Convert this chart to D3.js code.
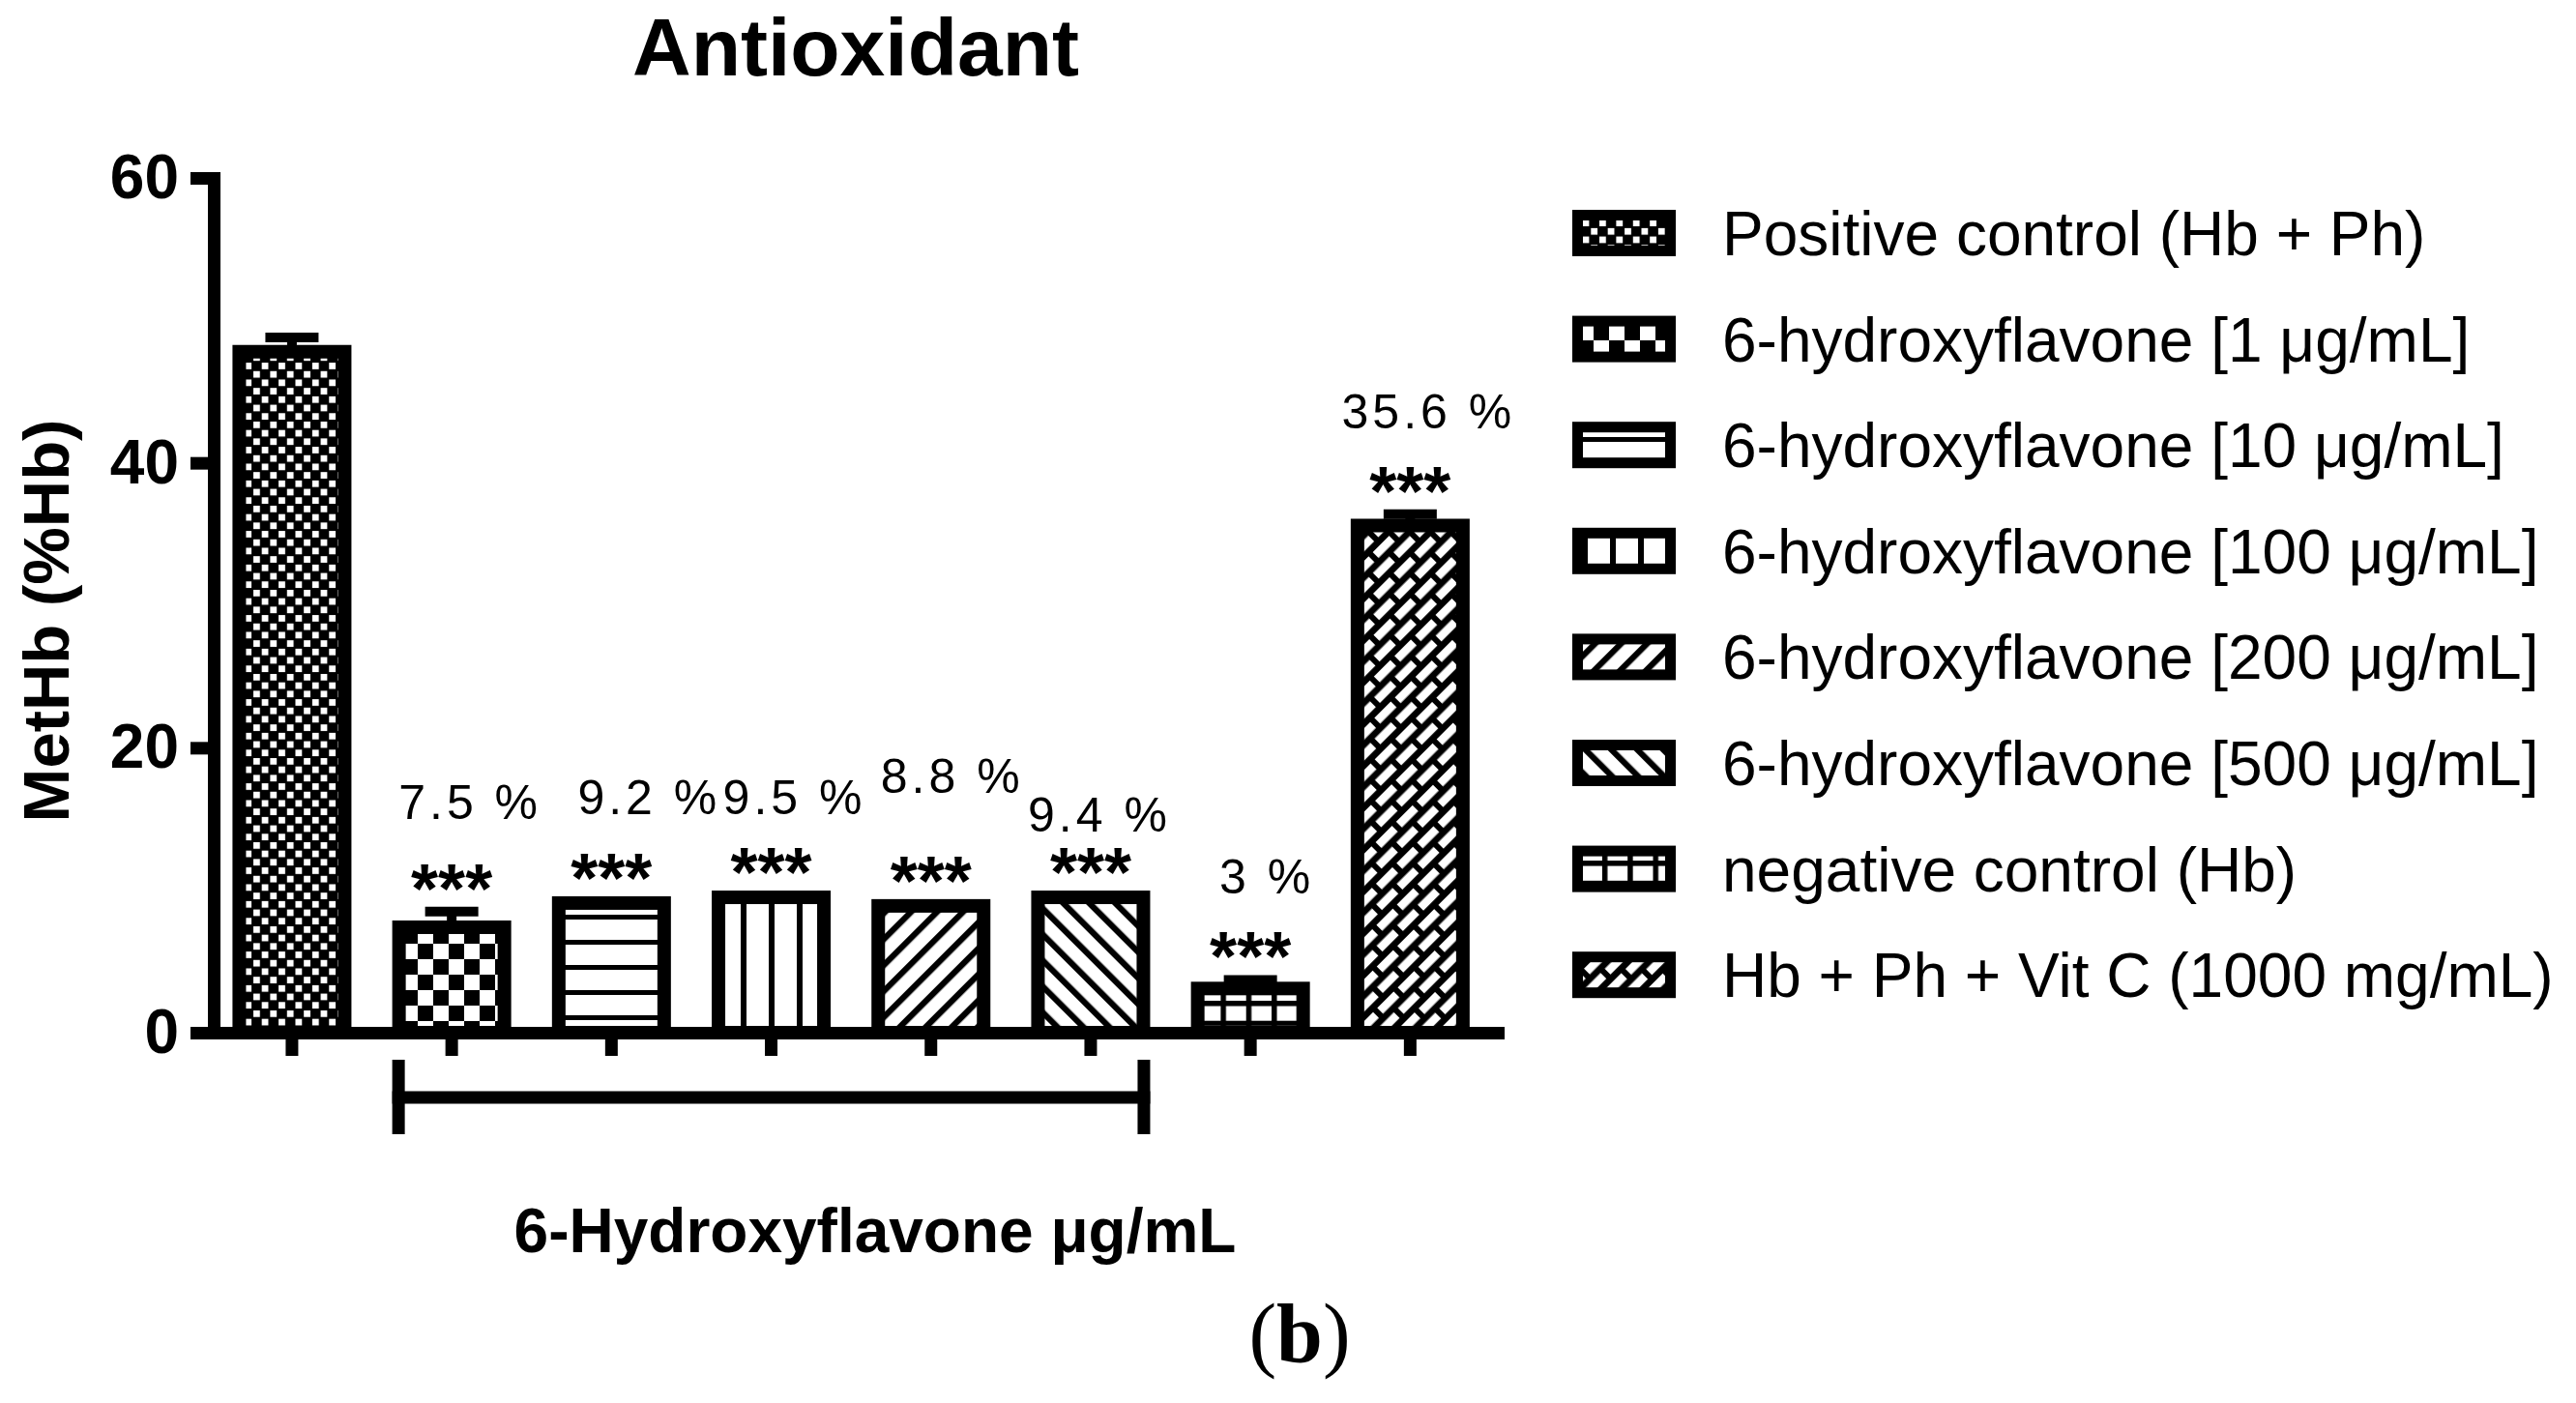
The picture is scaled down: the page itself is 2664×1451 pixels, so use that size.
<!DOCTYPE html>
<html>
<head>
<meta charset="utf-8">
<script src="https://cdn.jsdelivr.net/npm/d3@7"></script>
<style>
  html, body { margin: 0; padding: 0; background: #fff; }
  text { font-family: Arial, "Liberation Sans", sans-serif; fill: #000; }
</style>
</head>
<body>
<div id="chart"></div>
<script>
// Data
const categories = [
    "Positive control (Hb + Ph)",
    "6-hydroxyflavone [1 μg/mL]",
    "6-hydroxyflavone [10 μg/mL]",
    "6-hydroxyflavone [100 μg/mL]",
    "6-hydroxyflavone [200 μg/mL]",
    "6-hydroxyflavone [500 μg/mL]",
    "negative control (Hb)",
    "Hb + Ph + Vit C (1000 mg/mL)"
];
const means  = [47.8, 7.4, 9.1, 9.5, 8.9, 9.5, 3.1, 35.6];
const errors = [1.0, 1.1, 0, 0, 0, 0, 0.6, 0.8];
const stars  = ["", "***", "***", "***", "***", "***", "***", "***"];
const pctLabels = ["", "7.5 %", "9.2 %", "9.5 %", "8.8 %", "9.4 %", "3 %", "35.6 %"];
const yTicks = [0, 20, 40, 60];
const bracketGroup = [1, 5];   // first and last bar under the bracket
const bracketLabel = "6-Hydroxyflavone μg/mL";
const titleText = "Antioxidant";
const yLabel = "MetHb (%Hb)";

// Layout
const W = 2664, H = 1451;
const plotLeft = 221, plotRight = 1549, plotTop = 184, plotBottom = 1068;
const barStroke = 14;
const axisStroke = 13;
const pctLift = [0, 97, 91, 85, 116, 67, 90, 90];   // label spacing above the stars
const pctShift = [0, 19, 39, 24, 22, 9, 17, 19];     // label offset right of bar centre

const svg = d3.select("#chart").append("svg")
    .attr("width", W)
    .attr("height", H)
    .style("display", "block");

svg.append("rect").attr("width", W).attr("height", H).attr("fill", "#fff");

// Fill patterns (GraphPad style)
const defs = svg.append("defs");

function makePattern(id, w, h, transform)
{
    let p = defs.append("pattern")
        .attr("id", id)
        .attr("patternUnits", "userSpaceOnUse")
        .attr("width", w)
        .attr("height", h);
    if (transform) p.attr("patternTransform", transform);
    return p;
}

// 0: fine checker
let p = makePattern("pat0", 17.4, 17.4);
p.append("rect").attr("width", 17.4).attr("height", 17.4).attr("fill", "#000");
p.append("rect").attr("x", 1).attr("y", 1).attr("width", 6.8).attr("height", 6.8).attr("fill", "#fff");
p.append("rect").attr("x", 9.7).attr("y", 9.7).attr("width", 6.8).attr("height", 6.8).attr("fill", "#fff");

// 1: coarse checker
p = makePattern("pat1", 32, 32);
p.append("rect").attr("width", 32).attr("height", 32).attr("fill", "#fff");
p.append("rect").attr("width", 16).attr("height", 16).attr("fill", "#000");
p.append("rect").attr("x", 16).attr("y", 16).attr("width", 16).attr("height", 16).attr("fill", "#000");

// 2: horizontal lines
p = makePattern("pat2", 10, 26);
p.append("rect").attr("width", 10).attr("height", 26).attr("fill", "#fff");
p.append("rect").attr("y", 10).attr("width", 10).attr("height", 5).attr("fill", "#000");

// 3: vertical lines
p = makePattern("pat3", 29, 10);
p.append("rect").attr("width", 29).attr("height", 10).attr("fill", "#fff");
p.append("rect").attr("x", 12).attr("width", 6).attr("height", 10).attr("fill", "#000");

// 4: forward diagonal
p = makePattern("pat4", 19, 10, "rotate(45)");
p.append("rect").attr("width", 19).attr("height", 10).attr("fill", "#fff");
p.append("rect").attr("width", 6.3).attr("height", 10).attr("fill", "#000");

// 5: back diagonal
p = makePattern("pat5", 19, 10, "rotate(-45)");
p.append("rect").attr("width", 19).attr("height", 10).attr("fill", "#fff");
p.append("rect").attr("width", 6.3).attr("height", 10).attr("fill", "#000");

// 6: grid
p = makePattern("pat6", 26.3, 20.7);
p.append("rect").attr("width", 26.3).attr("height", 20.7).attr("fill", "#fff");
p.append("rect").attr("width", 5.5).attr("height", 20.7).attr("fill", "#000");
p.append("rect").attr("width", 26.3).attr("height", 5.5).attr("fill", "#000");

// 7: diagonal bricks
p = makePattern("pat7", 30, 30.6, "rotate(-45)");
p.append("rect").attr("width", 30).attr("height", 30.6).attr("fill", "#000");
p.append("rect").attr("x", 0).attr("y", 0).attr("width", 24).attr("height", 8.5).attr("fill", "#fff");
p.append("rect").attr("x", 15).attr("y", 15.3).attr("width", 15).attr("height", 8.5).attr("fill", "#fff");
p.append("rect").attr("x", 0).attr("y", 15.3).attr("width", 9).attr("height", 8.5).attr("fill", "#fff");

// Scales
const x = d3.scaleBand()
    .domain(categories)
    .range([plotLeft, plotRight])
    .paddingInner(0.2554)
    .paddingOuter(0.147)
    .align(0.4);

const y = d3.scaleLinear()
    .domain([0, 60])
    .range([plotBottom, plotTop]);

// Bars
const bars = svg.append("g");
categories.forEach((c, i) => {
    bars.append("rect")
        .attr("x", x(c) + barStroke / 2)
        .attr("y", y(means[i]))
        .attr("width", x.bandwidth() - barStroke)
        .attr("height", y(0) - y(means[i]))
        .attr("fill", "url(#pat" + i + ")")
        .attr("stroke", "#000")
        .attr("stroke-width", barStroke);
});

// Error bars (upper only)
const errG = svg.append("g");
categories.forEach((c, i) => {
    if (errors[i] <= 0) return;
    let cx = x(c) + x.bandwidth() / 2;
    let yTop = y(means[i] + errors[i]);
    errG.append("line")
        .attr("x1", cx).attr("x2", cx)
        .attr("y1", y(means[i])).attr("y2", yTop)
        .attr("stroke", "#000").attr("stroke-width", 10);
    errG.append("line")
        .attr("x1", cx - 27.5).attr("x2", cx + 27.5)
        .attr("y1", yTop).attr("y2", yTop)
        .attr("stroke", "#000").attr("stroke-width", 10);
});

// Y axis
const yAxisG = svg.append("g")
    .attr("transform", "translate(" + plotLeft + ",0)")
    .call(d3.axisLeft(y).tickValues(yTicks).tickSize(24).tickSizeOuter(0).tickPadding(12));
yAxisG.select(".domain").attr("stroke-width", axisStroke).attr("stroke-linecap", "square");
yAxisG.selectAll(".tick line").attr("stroke-width", axisStroke);
yAxisG.selectAll(".tick text")
    .style("font-size", "64px")
    .style("font-weight", "bold")
    .style("font-family", "Arial, 'Liberation Sans', sans-serif");

// X axis
const xAxisG = svg.append("g")
    .attr("transform", "translate(0," + plotBottom + ")")
    .call(d3.axisBottom(x).tickSize(24).tickSizeOuter(0).tickFormat(""));
xAxisG.select(".domain").attr("stroke-width", axisStroke).attr("stroke-linecap", "square");
xAxisG.selectAll(".tick line").attr("stroke-width", axisStroke);

// Significance stars and percentage labels
const annG = svg.append("g");
categories.forEach((c, i) => {
    if (!stars[i]) return;
    let cx = x(c) + x.bandwidth() / 2;
    let topEdge = errors[i] > 0 ? y(means[i] + errors[i]) - 5 : y(means[i]) - barStroke / 2;
    let starBase = topEdge + 6;
    annG.append("text")
        .attr("x", cx)
        .attr("y", starBase)
        .attr("text-anchor", "middle")
        .style("font-size", "72px")
        .style("font-weight", "bold")
        .text(stars[i]);
    annG.append("text")
        .attr("x", cx + pctShift[i])
        .attr("y", starBase - pctLift[i])
        .attr("text-anchor", "middle")
        .style("font-size", "50px")
        .style("letter-spacing", "4px")
        .text(pctLabels[i]);
});

// Bracket under the 6-hydroxyflavone group
const bx1 = x(categories[bracketGroup[0]]);
const bx2 = x(categories[bracketGroup[1]]) + x.bandwidth();
const brY = 1135;
const brG = svg.append("g").attr("stroke", "#000").attr("stroke-width", 13);
brG.append("line").attr("x1", bx1).attr("x2", bx2).attr("y1", brY).attr("y2", brY);
brG.append("line").attr("x1", bx1 + 6.5).attr("x2", bx1 + 6.5).attr("y1", brY - 39).attr("y2", brY + 38);
brG.append("line").attr("x1", bx2 - 6.5).attr("x2", bx2 - 6.5).attr("y1", brY - 39).attr("y2", brY + 38);

svg.append("text")
    .attr("x", 905)
    .attr("y", 1295)
    .attr("text-anchor", "middle")
    .style("font-size", "64px")
    .style("font-weight", "bold")
    .text(bracketLabel);

// Title
svg.append("text")
    .attr("x", (plotLeft + plotRight) / 2)
    .attr("y", 78)
    .attr("text-anchor", "middle")
    .style("font-size", "84px")
    .style("font-weight", "bold")
    .text(titleText);

// Y axis label
svg.append("text")
    .attr("transform", "translate(71," + 642 + ") rotate(-90)")
    .attr("text-anchor", "middle")
    .style("font-size", "67px")
    .style("font-weight", "bold")
    .text(yLabel);

// Legend
const legX = 1626, legY0 = 241, legStep = 109.6, swW = 107, swH = 48, swStroke = 11;
const legG = svg.append("g");
categories.forEach((c, i) => {
    let cy = legY0 + i * legStep;
    legG.append("rect")
        .attr("x", legX + swStroke / 2)
        .attr("y", cy - swH / 2 + swStroke / 2)
        .attr("width", swW - swStroke)
        .attr("height", swH - swStroke)
        .attr("fill", "url(#pat" + i + ")")
        .attr("stroke", "#000")
        .attr("stroke-width", swStroke);
    legG.append("text")
        .attr("x", 1781)
        .attr("y", cy + 23)
        .style("font-size", "64px")
        .text(c);
});

// Panel tag
const tag = svg.append("text")
    .attr("x", 1344)
    .attr("y", 1408)
    .attr("text-anchor", "middle")
    .style("font-family", "'Liberation Serif', 'Times New Roman', serif")
    .style("font-size", "86px");
tag.append("tspan").text("(");
tag.append("tspan").style("font-weight", "bold").text("b");
tag.append("tspan").text(")");
</script>
</body>
</html>
